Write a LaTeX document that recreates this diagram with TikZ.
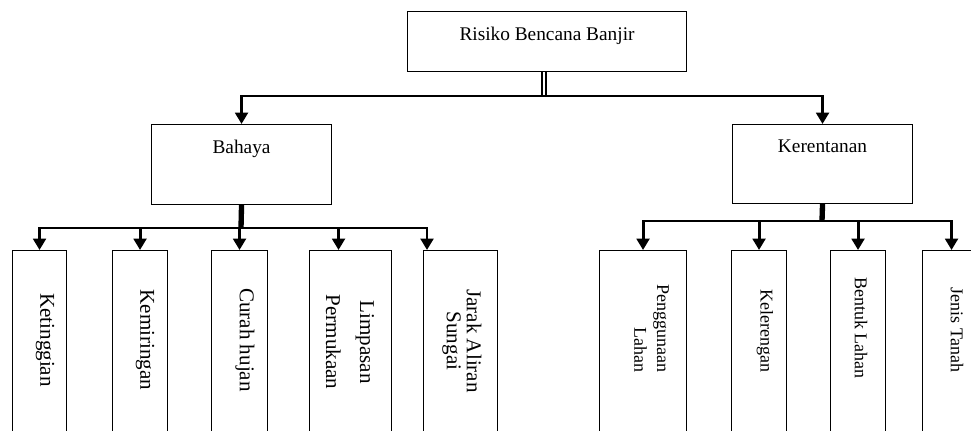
\documentclass[tikz,border=0pt]{standalone}
\usepackage{fontspec}
\setmainfont{Liberation Serif}
\usetikzlibrary{arrows.meta}

\tikzset{
  box/.style={draw, line width=0.8pt, rectangle, anchor=north west, inner sep=0pt},
  boxlabel/.style={anchor=north, inner ysep=11.5pt, font=\fontsize{14.5}{17}\selectfont},
  leaf/.style={box, minimum height=136.5pt},
  leaftext/.style={rotate=-90, align=center, inner sep=0pt, font=\fontsize{15.8}{24}\selectfont},
  leaftextr/.style={rotate=-90, align=center, inner sep=0pt, font=\fontsize{13.5}{17}\selectfont},
  trunk/.style={line width=4pt},
  trunkdouble/.style={double, double distance=1.6pt, line width=1.6pt},
  bus/.style={line width=2.2pt, -{Triangle[width=9.5pt,length=8.5pt]}},
}

\begin{document}
\begin{tikzpicture}[x=0.75pt,y=0.75pt,yscale=-1,xscale=1]
        \useasboundingbox (0,0) rectangle (971,431);
        \clip (0,0) rectangle (971,431);
        %Shape: Rectangle [top]
        \node[box, minimum width=209.25pt, minimum height=45pt, label={[boxlabel]north:Risiko Bencana Banjir}] (risiko) at (407,11) {};
        %Shape: Rectangle [second level]
        \node[box, minimum width=135pt, minimum height=60pt, label={[boxlabel]north:Bahaya}] (bahaya) at (151,124) {};
        \node[box, minimum width=135pt, minimum height=59.25pt, label={[boxlabel]north:Kerentanan}] (kerentanan) at (732,124) {};
        %Shape: Rectangle [leaves of Bahaya]
        \node[leaf, minimum width=40.5pt] (ketinggian) at (12,250) {};
        \node[leaf, minimum width=41.25pt] (kemiringan) at (112,250) {};
        \node[leaf, minimum width=42pt] (curah) at (211,250) {};
        \node[leaf, minimum width=61.5pt] (limpasan) at (309,250) {};
        \node[leaf, minimum width=55.5pt] (jarak) at (423,250) {};
        %Shape: Rectangle [leaves of Kerentanan]
        \node[leaf, minimum width=65.25pt] (penggunaan) at (599,250) {};
        \node[leaf, minimum width=41.25pt] (kelerengan) at (731,250) {};
        \node[leaf, minimum width=41.25pt] (bentuk) at (830,250) {};
        \node[leaf, minimum width=43.5pt] (jenis) at (922,250) {};
        % Text Node
        \node[leaftext] (t-ketinggian) at (45,340) {Ketinggian};
        \node[leaftext] (t-kemiringan) at (145,340) {Kemiringan};
        \node[leaftext] (t-curah) at (245,340) {Curah hujan};
        \node[leaftext, font=\fontsize{15.8}{25.5}\selectfont] (t-limpasan) at (350,342) {Limpasan\\Permukaan};
        \node[leaftext, font=\fontsize{15.8}{15}\selectfont] (t-jarak) at (462,341) {Jarak Aliran\\Sungai};
        \node[leaftextr, align=right] (t-penggunaan) at (651.5,328.5) {Penggunaan\\Lahan};
        \node[leaftextr] (t-kelerengan) at (765,331) {Kelerengan};
        \node[leaftextr] (t-bentuk) at (861,328) {Bentuk Lahan};
        \node[leaftextr] (t-jenis) at (957,330) {Jenis Tanah};
        %Straight Lines [junctions]
        \coordinate (rj) at (544,96);
        \coordinate (bj) at (241,228);
        \coordinate (kj) at (822,221);
        \draw[trunkdouble] (risiko.south -| rj) -- (rj);
        \draw[trunk] (bahaya.south) -- (bj);
        \draw[trunk] (kerentanan.south) -- (kj);
        %Straight Lines [arrows]
        \draw[bus] (rj) -| (bahaya.north);
        \draw[bus] (rj) -| (kerentanan.north);
        \draw[bus] (bj) -| (ketinggian.north);
        \draw[bus] (bj) -| (kemiringan.north);
        \draw[bus] (bj) -| (curah.north);
        \draw[bus] (bj) -| ([xshift=-9pt]limpasan.north);
        \draw[bus] (bj) -| ([xshift=3pt]jarak.north west);
        \draw[bus] (kj) -| (penggunaan.north);
        \draw[bus] (kj) -| (kelerengan.north);
        \draw[bus] (kj) -| (bentuk.north);
        \draw[bus] (kj) -| (jenis.north);
\end{tikzpicture}
\end{document}
